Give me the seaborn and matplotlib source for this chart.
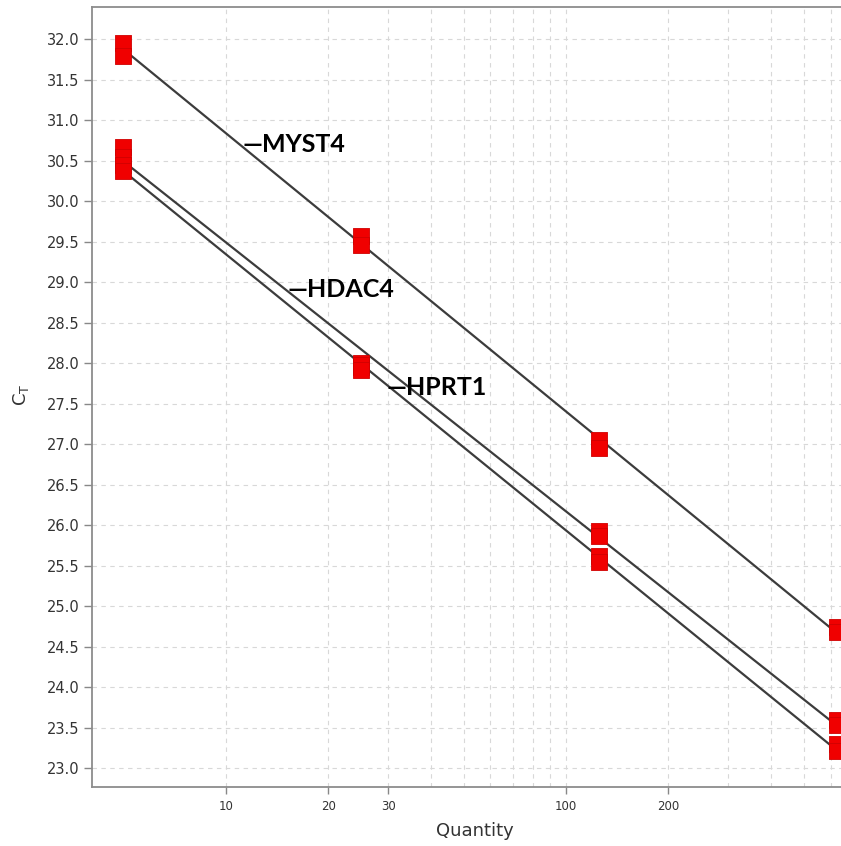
import matplotlib
matplotlib.use("Agg")
import matplotlib.pyplot as plt
from matplotlib.ticker import FixedLocator, NullFormatter
import numpy as np
import pandas as pd
import seaborn as sns

# Standard-curve dilution series (duplicate wells per dilution)
quantity = [5, 5, 25, 25, 125, 125, 625, 625]
ct_myst4 = [31.95, 31.80, 29.57, 29.46, 27.05, 26.95, 24.74, 24.68]
ct_hdac4 = [30.67, 30.55, 28.00, 27.95, 25.93, 25.87, 23.60, 23.53]
ct_hprt1 = [30.45, 30.37, 27.98, 27.92, 25.62, 25.55, 23.30, 23.21]

genes = ["MYST4", "HDAC4", "HPRT1"]
gene_ct = [ct_myst4, ct_hdac4, ct_hprt1]
# where each gene's name is written beside its fitted line (quantity, Ct)
label_pos = [(11.2, 30.70), (15.2, 28.91), (29.7, 27.70)]

x_major = [10, 20, 30, 100, 200, 700]
x_minor = [40, 50, 60, 70, 80, 90, 300, 400, 500, 600, 800, 900]
y_ticks = np.arange(23.0, 32.01, 0.5)

sns.set_style("white")
plt.rcParams["font.family"] = ["DejaVu Sans"]

fig = plt.figure(figsize=(8.41, 8.46), dpi=100)
# axes runs past the right edge of the canvas
ax = fig.add_axes([92 / 841, 59 / 846, 781 / 841, 780 / 846])
ax.set_xscale("log")

for name, ct in zip(genes, gene_ct):
    df = pd.DataFrame({"Quantity": quantity, "Ct": ct})
    sns.regplot(
        data=df, x="Quantity", y="Ct", ax=ax, logx=True, ci=None,
        truncate=True, marker="s",
        scatter_kws=dict(color="#f00000", edgecolor="#d00000", s=135,
                         linewidths=0.6, alpha=1, zorder=3),
        line_kws=dict(color="#3c3c3c", lw=1.6, zorder=2),
    )

for name, (lx, ly) in zip(genes, label_pos):
    ax.text(lx, ly, "\u2014" + name, ha="left", va="center",
            fontsize=18, fontweight="bold", family=["Lato", "DejaVu Sans"],
            color="black", zorder=4)

ax.set_xlim(4.04, 800)
ax.set_ylim(22.77, 32.4)

ax.xaxis.set_major_locator(FixedLocator(x_major))
ax.xaxis.set_minor_locator(FixedLocator(x_minor))
ax.xaxis.set_minor_formatter(NullFormatter())
ax.set_xticklabels([str(v) for v in x_major])
ax.set_yticks(y_ticks)
ax.set_yticklabels([f"{v:.1f}" for v in y_ticks])

ax.tick_params(axis="x", which="major", direction="out", length=5, width=1,
               color="#888888", labelsize=8.5, labelcolor="#333333", pad=4, bottom=True)
ax.tick_params(axis="x", which="minor", length=0)
ax.tick_params(axis="y", which="major", direction="out", length=6, width=1,
               color="#888888", labelsize=10.5, labelcolor="#333333", pad=3, left=True)

grid_kw = dict(color="#d8d8d8", linestyle=(0, (4, 4)), linewidth=0.8)
ax.grid(True, axis="y", which="major", **grid_kw)
ax.grid(True, axis="x", which="both", **grid_kw)
ax.set_axisbelow(True)

for side in ["left", "bottom", "top", "right"]:
    ax.spines[side].set_color("#8c8c8c")
    ax.spines[side].set_linewidth(1.3)

ax.set_xlabel("Quantity", fontsize=13, color="#333333")
ax.xaxis.set_label_coords((475 - 92) / 781, -0.045)
ax.set_ylabel(r"C$_{\mathregular{T}}$", fontsize=13, color="#333333")
ax.yaxis.set_label_coords(-0.078, 0.503)

fig.savefig("out.png", dpi=100)
